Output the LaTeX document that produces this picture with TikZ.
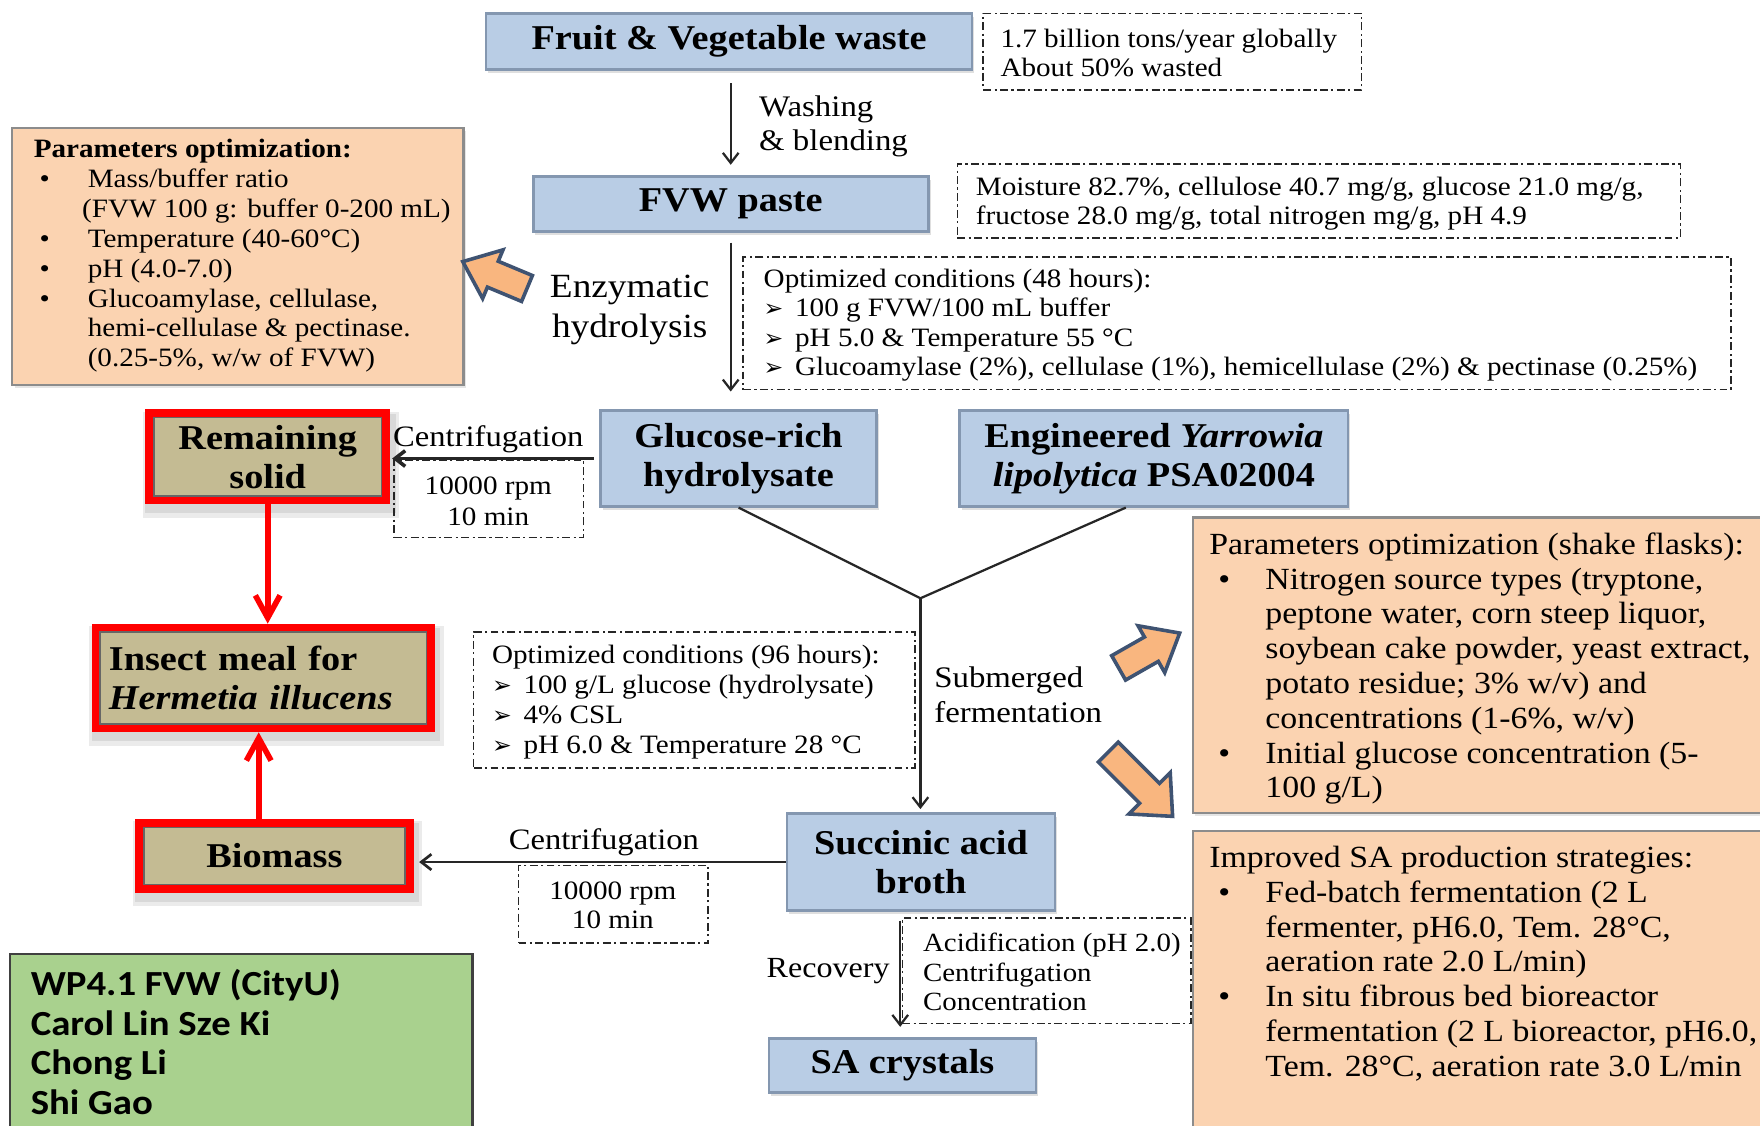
\documentclass[tikz,border=0pt]{standalone}
\usepackage{fontspec}
\setmainfont{Liberation Serif}[FakeStretch=1.1]
\newfontfamily\calibfont{Carlito}[FakeStretch=1.1]
\newfontfamily\dvsfont{DejaVu Sans}
\usetikzlibrary{arrows.meta,fit,shadows,backgrounds}
\definecolor{boxblue}{HTML}{B9CDE5}
\definecolor{boxbluedraw}{HTML}{8497B0}
\definecolor{peach}{HTML}{FBD3B1}
\definecolor{peachdraw}{HTML}{8C8C8C}
\definecolor{tanfill}{HTML}{C4BB93}
\definecolor{greenfill}{HTML}{A9D18E}
\definecolor{fatfill}{HTML}{F9B67F}
\definecolor{fatdraw}{HTML}{3F5372}
\newcommand\myfs[2]{\fontsize{#1}{#2}\selectfont}
\newcommand\topst[1]{\rule{0pt}{#1}}
\newcommand\arrbul{\makebox[14pt][l]{\dvsfont\fontsize{10.5}{10.5}\selectfont ➢}}
\newcommand\lbul{\makebox[21.4pt][l]{•}}
\newcommand\rbul{\makebox[21pt][l]{•}}
\newcommand\fatarrow[4]{\draw[fatstyle, shift={#1}, rotate=#2] (0,-12.5) -- ({#3-29},-12.5) -- ({#3-29},-#4) -- (#3,0) -- ({#3-29},#4) -- ({#3-29},12.5) -- (0,12.5) -- cycle;}
\begin{document}
\begin{tikzpicture}[x=0.5pt,y=-0.5pt,
  bluebox/.style={draw=boxbluedraw, line width=1.2pt, fill=boxblue, font=\bfseries\myfs{15.5}{17.5}, align=center, inner sep=0pt, drop shadow={shadow xshift=1pt, shadow yshift=-1.5pt, opacity=0.25}},
  tanbox/.style={draw=black!60, line width=0.8pt, fill=tanfill, font=\bfseries\myfs{15.5}{17.5}, align=center, inner sep=0pt},
  redframe/.style={draw=red, line width=3.4pt, inner sep=1.6pt, outer sep=1.7pt},
  peachbox/.style={draw=peachdraw, line width=1pt, fill=peach, inner sep=0pt, drop shadow={shadow xshift=1pt, shadow yshift=-1.5pt, opacity=0.2}},
  greenbox/.style={draw=black!75, line width=1.2pt, fill=greenfill, inner sep=0pt},
  dbox/.style={draw=black!85, line width=0.7pt, dash pattern=on 3.5pt off 1.5pt on 1pt off 1.5pt, inner sep=0pt},
  txt/.style={anchor=north west, inner sep=0pt, align=left},
  conn/.style={draw=black!85, line width=1pt, -{Straight Barb[length=4.5pt,width=7pt]}},
  redconn/.style={draw=red, line width=2.5pt, -{Straight Barb[length=10pt,width=11pt]}},
  fatstyle/.style={fill=fatfill, draw=fatdraw, line width=1.6pt, line join=miter}
]
\useasboundingbox (0,0) rectangle (1568,1003);

% ---------- orange / green panels ----------
\node[peachbox, minimum width=201pt, minimum height=114.5pt] (lop) at (212,228.5) {};
\node[peachbox, minimum width=258.5pt, minimum height=131.5pt] (rop1) at (1321.5,592.5) {};
\node[peachbox, minimum width=258.5pt, minimum height=140pt] (rop2) at (1321.5,880) {};
\node[greenbox, minimum width=206pt, minimum height=85pt] (grn) at (215,935) {};

% ---------- dashed boxes ----------
\node[dbox, minimum width=168.5pt, minimum height=34pt] (d1) at (1044.5,46) {};
\node[dbox, minimum width=322pt, minimum height=33pt] (d2) at (1175,179) {};
\node[dbox, minimum width=440pt, minimum height=59pt] (d3) at (1102,288) {};
\node[dbox, minimum width=84.5pt, minimum height=34.5pt] (d4) at (435.5,444.5) {};
\node[dbox, minimum width=196.5pt, minimum height=60.5pt] (d5) at (618.5,623.5) {};
\node[dbox, minimum width=84.5pt, minimum height=34.5pt] (d6) at (546.5,805.5) {};
\node[dbox, minimum width=128.5pt, minimum height=47pt] (d7) at (932.5,865) {};

% ---------- blue process boxes ----------
\node[bluebox, minimum width=216.5pt, minimum height=25pt] (fruit) at (649.5,37) {Fruit \& Vegetable waste};
\node[bluebox, minimum width=176pt, minimum height=24.5pt] (fvw) at (651,181.5) {FVW paste};
\node[bluebox, minimum width=123pt, minimum height=42.5pt] (gluc) at (658,408.5) {Glucose-rich\\hydrolysate};
\node[bluebox, minimum width=173pt, minimum height=42.5pt] (eng) at (1028,408.5) {Engineered \textit{Yarrowia}\\\textit{lipolytica} PSA02004};
\node[bluebox, minimum width=119.5pt, minimum height=43pt] (succ) at (820.5,768) {Succinic acid\\broth};
\node[bluebox, minimum width=119pt, minimum height=24pt] (sac) at (804,949) {SA crystals};

% ---------- tan boxes with red frames ----------
\node[tanbox, minimum width=101.5pt, minimum height=35pt] (rs) at (238.5,407) {Remaining\\solid};
\node[tanbox, minimum width=145.5pt, minimum height=41pt, text width=137.5pt, align=left, inner xsep=4pt] (im) at (234.5,604) {Insect meal for\\\textit{Hermetia illucens}};
\node[tanbox, minimum width=116.5pt, minimum height=25.5pt] (bm) at (244.5,762.5) {Biomass};
\node[redframe, fit=(rs)] (rsf) {};
\node[redframe, fit=(im)] (imf) {};
\node[redframe, fit=(bm)] (bmf) {};

% ---------- texts ----------
\node[txt, font=\myfs{11.8}{13}] (t1) at (891,21.6) {\topst{10pt}1.7 billion tons/year globally\\About 50\% wasted};
\node[txt, font=\myfs{11.8}{13}] (t2) at (869,154) {\topst{10pt}Moisture 82.7\%, cellulose 40.7 mg/g, glucose 21.0 mg/g,\\fructose 28.0 mg/g, total nitrogen mg/g, pH 4.9};
\node[txt, font=\myfs{11.8}{13}] (t3) at (680,236) {\topst{10pt}Optimized conditions (48 hours):\\
\arrbul 100 g FVW/100 mL buffer\\
\arrbul pH 5.0 \& Temperature 55 °C\\
\arrbul Glucoamylase (2\%), cellulase (1\%), hemicellulase (2\%) \& pectinase (0.25\%)};
\node[txt, font=\myfs{11.8}{13.35}] (t4) at (29.7,119.6) {\topst{10pt}\textbf{Parameters optimization:}\\
\hspace*{2.65pt}\lbul Mass/buffer ratio\\
\hspace*{21.55pt}(FVW 100 g: buffer 0-200 mL)\\
\hspace*{2.65pt}\lbul Temperature (40-60°C)\\
\hspace*{2.65pt}\lbul pH (4.0-7.0)\\
\hspace*{2.65pt}\lbul Glucoamylase, cellulase,\\
\hspace*{24.05pt}hemi-cellulase \& pectinase.\\
\hspace*{24.05pt}(0.25-5\%, w/w of FVW)};
\node[txt, font=\myfs{13.7}{15.5}] (t5) at (1077,469.5) {\topst{12pt}Parameters optimization (shake flasks):\\
\hspace*{4pt}\rbul Nitrogen source types (tryptone,\\
\hspace*{25pt}peptone water, corn steep liquor,\\
\hspace*{25pt}soybean cake powder, yeast extract,\\
\hspace*{25pt}potato residue; 3\% w/v) and\\
\hspace*{25pt}concentrations (1-6\%, w/v)\\
\hspace*{4pt}\rbul Initial glucose concentration (5-\\
\hspace*{25pt}100 g/L)};
\node[txt, font=\myfs{13.7}{15.5}] (t6) at (1077,748.5) {\topst{12pt}Improved SA production strategies:\\
\hspace*{4pt}\rbul Fed-batch fermentation (2 L\\
\hspace*{25pt}fermenter, pH6.0, Tem. 28°C,\\
\hspace*{25pt}aeration rate 2.0 L/min)\\
\hspace*{4pt}\rbul In situ fibrous bed bioreactor\\
\hspace*{25pt}fermentation (2 L bioreactor, pH6.0,\\
\hspace*{25pt}Tem. 28°C, aeration rate 3.0 L/min};
\node[txt, font=\myfs{11.8}{13.3}] (t7) at (438,571) {\topst{10pt}Optimized conditions (96 hours):\\
\arrbul 100 g/L glucose (hydrolysate)\\
\arrbul 4\% CSL\\
\arrbul pH 6.0 \& Temperature 28 °C};
\node[txt, font=\myfs{11.7}{13.3}] (t8) at (822,827) {\topst{10pt}Acidification (pH 2.0)\\Centrifugation\\Concentration};
\node[anchor=north, inner sep=0pt, align=center, font=\myfs{11.8}{14}] (c1) at (435,420) {\topst{10pt}10000 rpm\\10 min};
\node[anchor=north, inner sep=0pt, align=center, font=\myfs{11.8}{13}] (c2) at (546,781) {\topst{10pt}10000 rpm\\10 min};
\node[txt, font=\myfs{13.3}{15.5}] (wash) at (676,81) {\topst{11pt}Washing\\\& blending};
\node[anchor=north, inner sep=0pt, align=center, font=\myfs{15.1}{18}] (enz) at (561,238.5) {\topst{13pt}Enzymatic\\hydrolysis};
\node[anchor=base, inner sep=0pt, font=\myfs{13.2}{15}] (cen1) at (435,398) {Centrifugation};
\node[anchor=base, inner sep=0pt, font=\myfs{13.2}{15}] (cen2) at (538,757) {Centrifugation};
\node[txt, font=\myfs{13.3}{15.5}] (subm) at (832,590) {\topst{11pt}Submerged\\fermentation};
\node[anchor=base east, inner sep=0pt, font=\myfs{13}{15}] (recov) at (793,871) {Recovery};
\node[txt, font=\calibfont\bfseries\myfs{15.7}{17.65}] (gtxt) at (27,862.4) {\topst{12pt}WP4.1 FVW (CityU)\\Carol Lin Sze Ki\\Chong Li\\Shi Gao};

% ---------- connectors ----------
\coordinate (J) at (820,533);
\draw[conn, shorten <=5.5pt, shorten >=4.5pt] (fruit.south -| fvw.north) -- (fvw.north);
\draw[conn, shorten <=4.5pt, shorten >=8pt] (fvw.south) -- (fvw.south |- gluc.north);
\draw[conn, line width=1.6pt, shorten <=2.5pt, shorten >=1pt] (gluc.west) -- (gluc.west -| rsf.east);
\draw[draw=black!85, line width=1pt] (gluc.south) -- (J);
\draw[draw=black!85, line width=1pt] ([xshift=-12.5pt]eng.south) -- (J);
\draw[conn, shorten >=1.5pt] (J) -- (J |- succ.north);
\draw[conn, line width=1.2pt, shorten >=2.5pt] (succ.west) -- (succ.west -| bmf.east);
\draw[conn, shorten <=4pt, shorten >=4.5pt] ([xshift=-1pt]succ.south -| sac.north) -- ([xshift=-1pt]sac.north);
\draw[redconn] (rsf.south) -- (rsf.south |- imf.north);
\draw[redconn] ([xshift=-2pt]bmf.north -| imf.south) -- ([xshift=-2pt]imf.south);

% ---------- block arrows ----------
\fatarrow{(469.5,257)}{157.3}{62}{23.5}
\fatarrow{(996.6,595)}{29.7}{62.6}{24}
\fatarrow{(987.4,670)}{-45}{81}{26}

% ---------- background and soft shadows ----------
\begin{scope}[on background layer]
  \fill[white] (0,0) rectangle (1568,1003);
  \foreach \n in {rsf,imf,bmf}{
    \fill[black, opacity=0.08] ([shift={(-2,2)}]\n.north west) rectangle ([shift={(8,12)}]\n.south east);
    \fill[black, opacity=0.08] ([shift={(0,4)}]\n.north west) rectangle ([shift={(5,8)}]\n.south east);
  }
\end{scope}
\end{tikzpicture}
\end{document}
